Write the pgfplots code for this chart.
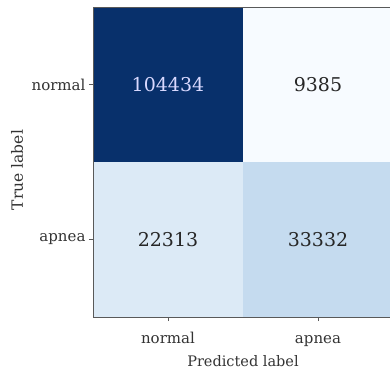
\documentclass[border=0pt]{standalone}
\usepackage{fontspec}
\setmainfont{DejaVu Serif}
\usepackage{pgfplots}
\pgfplotsset{compat=1.18}
\pgfplotsset{colormap={blues}{rgb255=(247,251,255) rgb255=(222,235,247) rgb255=(198,219,239) rgb255=(158,202,225) rgb255=(107,174,214) rgb255=(66,146,198) rgb255=(33,113,181) rgb255=(8,81,156) rgb255=(8,48,107)}}
\begin{document}
\begin{tikzpicture}
\begin{axis}[
  scale only axis,
  width=300pt, height=310pt,
  xmin=-0.5, xmax=1.5, ymin=-0.5, ymax=1.5,
  y dir=reverse,
  colormap name=blues,
  point meta min=9385, point meta max=104434,
  xtick={0,1}, ytick={0,1},
  xticklabels={normal,apnea}, yticklabels={normal,apnea},
  tick align=outside, major tick length=4pt,
  xtick pos=bottom, ytick pos=left,
  tick style={black!65, line width=0.9pt},
  axis line style={black!65, line width=0.9pt},
  ticklabel style={font=\fontsize{15}{17}\selectfont, text=black!80},
  xticklabel style={anchor=base, yshift=-22pt},
  xlabel={Predicted label}, ylabel={True label},
  label style={font=\fontsize{14.5}{16}\selectfont, text=black!80},
  xlabel style={at={(axis description cs:0.5,0)}, anchor=base, yshift=-49pt},
  ylabel style={at={(axis description cs:0,0.5)}, anchor=center, yshift=76pt, xshift=-8pt, font=\fontsize{15.5}{17}\selectfont},
  axis on top,
]
\addplot[matrix plot*, mesh/cols=2, mesh/rows=2, point meta=explicit, draw=none] table[meta=C] {
x y C
0 0 104434
1 0 9385
0 1 22313
1 1 33332
};
\addplot[only marks, mark=none, nodes near coords, point meta=explicit symbolic,
  every node near coord/.append style={anchor=center, font=\fontsize{19}{21}\selectfont, text=white!85!blue}]
  table[meta=L] {
x y L
0 0 104434
};
\addplot[only marks, mark=none, nodes near coords, point meta=explicit symbolic,
  every node near coord/.append style={anchor=center, font=\fontsize{19}{21}\selectfont, text=black!85}]
  table[meta=L] {
x y L
1 0 9385
0 1 22313
1 1 33332
};
\end{axis}
\pgfresetboundingbox
\path[use as bounding box] ([xshift=-93pt,yshift=-59pt]current axis.south west) rectangle ([xshift=-3pt,yshift=7pt]current axis.north east);
\end{tikzpicture}
\end{document}
